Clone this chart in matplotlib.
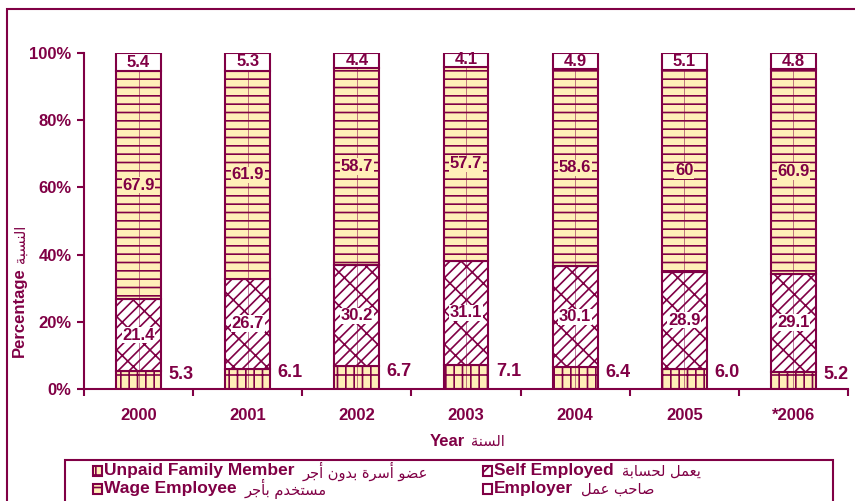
import matplotlib
matplotlib.use('Agg')
import matplotlib.pyplot as plt
import numpy as np
from matplotlib.patches import Rectangle

years = ['2000', '2001', '2002', '2003', '2004', '2005', '*2006']
unpaid = [5.3, 6.1, 6.7, 7.1, 6.4, 6.0, 5.2]
self_emp = [21.4, 26.7, 30.2, 31.1, 30.1, 28.9, 29.1]
wage = [67.9, 61.9, 58.7, 57.7, 58.6, 60, 60.9]
employer = [5.4, 5.3, 4.4, 4.1, 4.9, 5.1, 4.8]

maroon = '#800045'
yellow = '#FFEFB8'

# minimal arabic shaping (presentation forms), matplotlib has no shaping
FORMS = {
    'ا': ('\uFE8D', '\uFE8E'),
    'أ': ('\uFE83', '\uFE84'),
    'ب': ('\uFE8F', '\uFE90', '\uFE91', '\uFE92'),
    'ة': ('\uFE93', '\uFE94'),
    'ت': ('\uFE95', '\uFE96', '\uFE97', '\uFE98'),
    'ج': ('\uFE9D', '\uFE9E', '\uFE9F', '\uFEA0'),
    'ح': ('\uFEA1', '\uFEA2', '\uFEA3', '\uFEA4'),
    'خ': ('\uFEA5', '\uFEA6', '\uFEA7', '\uFEA8'),
    'د': ('\uFEA9', '\uFEAA'),
    'ر': ('\uFEAD', '\uFEAE'),
    'س': ('\uFEB1', '\uFEB2', '\uFEB3', '\uFEB4'),
    'ص': ('\uFEB9', '\uFEBA', '\uFEBB', '\uFEBC'),
    'ض': ('\uFEBD', '\uFEBE', '\uFEBF', '\uFEC0'),
    'ع': ('\uFEC9', '\uFECA', '\uFECB', '\uFECC'),
    'ل': ('\uFEDD', '\uFEDE', '\uFEDF', '\uFEE0'),
    'م': ('\uFEE1', '\uFEE2', '\uFEE3', '\uFEE4'),
    'ن': ('\uFEE5', '\uFEE6', '\uFEE7', '\uFEE8'),
    'ه': ('\uFEE9', '\uFEEA', '\uFEEB', '\uFEEC'),
    'و': ('\uFEED', '\uFEEE'),
    'ي': ('\uFEF1', '\uFEF2', '\uFEF3', '\uFEF4'),
}


def shape(s):
    out = []
    for i, ch in enumerate(s):
        if ch not in FORMS:
            out.append(ch)
            continue
        f = FORMS[ch]
        prev = s[i - 1] if i > 0 else ''
        nxt = s[i + 1] if i + 1 < len(s) else ''
        jp = prev in FORMS and len(FORMS[prev]) == 4
        jn = nxt in FORMS and len(f) == 4
        if jp and jn:
            out.append(f[3])
        elif jp:
            out.append(f[1])
        elif jn:
            out.append(f[2])
        else:
            out.append(f[0])
    return ''.join(reversed(out))


plt.rcParams['font.family'] = ['Liberation Sans', 'DejaVu Sans']
plt.rcParams['font.weight'] = 'bold'
plt.rcParams['hatch.linewidth'] = 1.2

W, H = 855, 501
fig = plt.figure(figsize=(W / 100, H / 100), dpi=100)
ax = fig.add_axes([84 / W, 1 - 389 / H, 764 / W, 336 / H])
renderer = fig.canvas.get_renderer()

x = np.arange(len(years))
w = 0.41
u = np.array(unpaid)
s = np.array(self_emp)
wg = np.array(wage)
e = np.array(employer)

styles = {
    'unpaid': dict(facecolor=yellow, hatch='||-'),
    'self': dict(facecolor='white', hatch='///\\'),
    'wage': dict(facecolor=yellow, hatch='--'),
    'employer': dict(facecolor='white', hatch=None),
}

ax.bar(x, u, w, edgecolor=maroon, lw=1.5, **styles['unpaid'])
ax.bar(x, s, w, bottom=u, edgecolor=maroon, lw=1.5, **styles['self'])
ax.bar(x, wg, w, bottom=u + s, edgecolor=maroon, lw=1.5, **styles['wage'])
ax.bar(x, e, w, bottom=u + s + wg, edgecolor=maroon, lw=1.5, **styles['employer'])
# thin centre line seen through the filled parts of each bar
ax.vlines(x, 0, u + s + wg, color=maroon, lw=0.6, alpha=0.6)

for i in range(len(years)):
    ax.text(x[i] + w / 2 + 0.07, u[i] / 2 + 1.8, '%.1f' % u[i], color=maroon,
            fontsize=13, ha='left', va='center')
    ax.text(x[i], u[i] + s[i] / 2, '%g' % s[i], color=maroon, fontsize=12,
            ha='center', va='center',
            bbox=dict(facecolor='white', edgecolor='none', pad=0.5))
    ax.text(x[i], u[i] + s[i] + wg[i] / 2, '%g' % wg[i], color=maroon, fontsize=12,
            ha='center', va='center',
            bbox=dict(facecolor=yellow, edgecolor='none', pad=0.5))
    ax.text(x[i], 100 - e[i] / 2, '%g' % e[i], color=maroon, fontsize=12,
            ha='center', va='center')

ax.set_xlim(-0.5, len(years) - 0.5)
ax.set_ylim(0, 100)
ax.set_xticks(x, years)
ax.set_xticks(np.arange(-0.5, len(years), 1), minor=True)
ax.tick_params(axis='x', which='major', length=0, pad=14, labelsize=12, labelcolor=maroon)
ax.tick_params(axis='x', which='minor', length=5, width=1.5, color=maroon)
ax.set_yticks(np.arange(0, 101, 20))
ax.set_yticklabels(['%d%%' % v for v in range(0, 101, 20)])
ax.tick_params(axis='y', length=5, width=1.5, color=maroon, pad=4,
               labelsize=12, labelcolor=maroon)
for side in ['top', 'right']:
    ax.spines[side].set_visible(False)
for side in ['left', 'bottom']:
    ax.spines[side].set_color(maroon)
    ax.spines[side].set_linewidth(1.5)


def en_ar(xpx, ypx, en, ar, size=12, ar_size=10.5, gap=6, center=False):
    # english bold text followed by arabic text, positions in pixels from top-left
    t1 = fig.text(xpx / W, 1 - ypx / H, en, color=maroon, fontsize=size,
                  fontweight='bold', ha='left', va='center')
    t2 = fig.text(0, 1 - ypx / H, ar, color=maroon, fontsize=ar_size,
                  fontweight='normal', family='DejaVu Sans', ha='left', va='center')
    b1 = t1.get_window_extent(renderer)
    b2 = t2.get_window_extent(renderer)
    if center:
        total = b1.width + gap + b2.width
        t1.set_x((xpx - total / 2) / W)
        b1 = t1.get_window_extent(renderer)
    t2.set_x((b1.x1 + gap) / W)
    return t1, t2


# y axis title: rotated english then arabic above it
yl = fig.text(19 / W, 1 - 357 / H, 'Percentage', color=maroon, fontsize=12,
              fontweight='bold', rotation=90, ha='center', va='bottom')
yb = yl.get_window_extent(renderer)
fig.text(20 / W, (yb.y1 + 4) / H, shape('النسبة'), color=maroon, fontsize=10.5,
         fontweight='normal', family='DejaVu Sans', rotation=90, ha='center', va='bottom')

en_ar(467, 442, 'Year', shape('السنة'), center=True)

# outer frame and legend frame (cut off by the picture edges)
fig.add_artist(Rectangle((7 / W, -0.5), 2, 1.5 - 9 / H, transform=fig.transFigure,
                         fill=False, edgecolor=maroon, lw=1.5))
fig.add_artist(Rectangle((65 / W, -0.5), (833 - 65) / W, 0.5 + 1 - 460 / H,
                         transform=fig.transFigure, fill=False, edgecolor=maroon, lw=1.5))

legend_items = [
    ('unpaid', 'Unpaid Family Member', shape('عضو أسرة بدون أجر'), 93, 471),
    ('wage', 'Wage Employee', shape('مستخدم بأجر'), 93, 489),
    ('self', 'Self Employed', shape('يعمل لحسابة'), 483, 471),
    ('employer', 'Employer', shape('صاحب عمل'), 483, 489),
]
for key, en, ar, lx, ly in legend_items:
    st = styles[key]
    fig.add_artist(Rectangle((lx / W, 1 - (ly + 5) / H), 9 / W, 10 / H,
                             transform=fig.transFigure, facecolor=st['facecolor'],
                             hatch=st['hatch'], edgecolor=maroon, lw=1.5))
    en_ar(lx + 11, ly, en, ar, size=12.5, ar_size=10.5, gap=8)

fig.savefig('out.png', dpi=100)
